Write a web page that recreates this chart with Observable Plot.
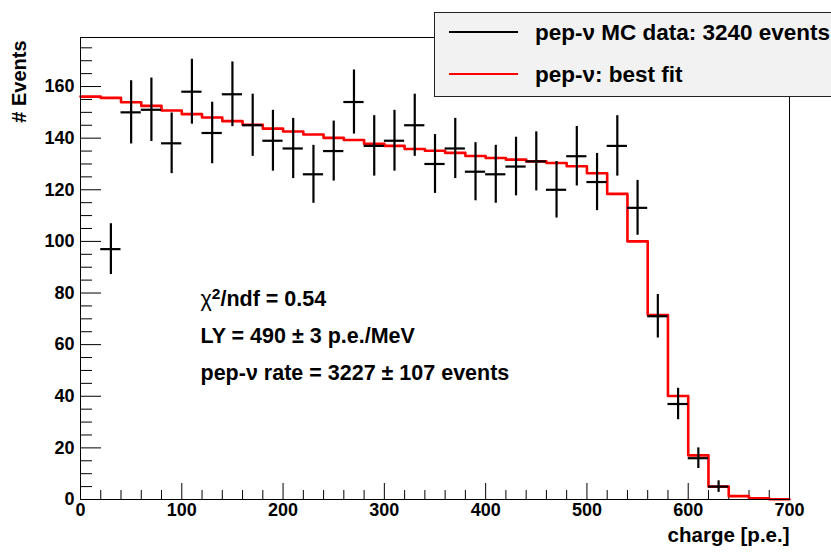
<!DOCTYPE html>
<html><head><meta charset="utf-8">
<script src="https://cdn.jsdelivr.net/npm/d3@7"></script>
<script src="https://cdn.jsdelivr.net/npm/@observablehq/plot@0.6"></script>
<style>
html,body{margin:0;padding:0;background:#fff;overflow:hidden;}
#wrap{position:relative;width:831px;height:553px;overflow:hidden;}
</style></head><body><div id="wrap"></div>
<script>
// MC data: bin centers (p.e.) and counts
const binCenters = [30,50,70,90,110,130,150,170,190,210,230,250,270,290,310,330,350,370,390,410,430,450,470,490,510,530,550,570,590,610,630];
const counts     = [97,150,151,138,158,142,157,145,139,136,126,135,154,137,139,145,130,136,127,126,129,131,120,133,123,137,113,71,37,16,5];
// best fit: value in each 20 p.e. bin, starting at the low edges below
const fitEdges  = [0,20,40,60,80,100,120,140,160,180,200,220,240,260,280,300,320,340,360,380,400,420,440,460,480,500,520,540,560,580,600,620,640,660,680];
const fitValues = [156.1,155.6,153.9,152.5,150.7,149.3,148.0,146.6,145.2,143.7,142.6,141.4,140.1,139.3,137.8,137.0,135.8,135.1,134.3,133.1,132.3,131.7,131.0,130.4,129.1,126.4,118.4,100.0,71.5,40.1,17.1,5.0,1.3,0.5,0.1];
const xEnd = 700;
const xTicks = [0,100,200,300,400,500,600,700];
const xMinorTicks = [20,40,60,80,120,140,160,180,220,240,260,280,320,340,360,380,420,440,460,480,520,540,560,580,620,640,660,680];
const yTicks = [0,20,40,60,80,100,120,140,160];
const yMinorTicks = [5,10,15,25,30,35,45,50,55,65,70,75,85,90,95,105,110,115,125,130,135,145,150,155,165,170,175];
const xLabel = "charge [p.e.]";
const yLabel = "# Events";
const legendLabels = ["pep-ν MC data: 3240 events", "pep-ν: best fit"];
const legendColors = ["#000000", "#ff0000"];
const fitInfo = ["χ2/ndf = 0.54", "LY = 490 ± 3 p.e./MeV", "pep-ν rate = 3227 ± 107 events"];

const W = 831, H = 553, mL = 80, mR = 42, mT = 37, mB = 54;
const pw = W - mL - mR, ph = H - mT - mB;
const FONT = "'Liberation Sans', Arial, Helvetica, sans-serif";

const data = binCenters.map((c, i) => ({x: c, n: counts[i]}));
const fitPts = fitEdges.map((e, i) => ({x: e, y: fitValues[i]}));
fitPts.push({x: xEnd, y: fitValues[fitValues.length - 1]});

const chart = Plot.plot({
  width: W, height: H,
  marginLeft: mL, marginRight: mR, marginTop: mT, marginBottom: mB,
  style: {fontFamily: FONT, fontWeight: "bold", color: "#000", background: "#fff"},
  x: {domain: [0, 700]},
  y: {domain: [0, 179]},
  marks: [
    Plot.axisX({ticks: xTicks, tickSize: 0, tickPadding: 4, fontSize: 18, fontWeight: "bold", label: null}),
    Plot.axisY({ticks: yTicks, tickSize: 0, tickPadding: 6, fontSize: 18, fontWeight: "bold", label: null}),
    Plot.tickX(xMinorTicks, {insetTop: ph - 9, stroke: "#000", strokeWidth: 1}),
    Plot.tickX(xTicks, {insetTop: ph - 16, stroke: "#000", strokeWidth: 1}),
    Plot.tickY(yMinorTicks, {insetRight: pw - 12, stroke: "#000", strokeWidth: 1}),
    Plot.tickY(yTicks, {insetRight: pw - 21, stroke: "#000", strokeWidth: 1}),
    Plot.line(fitPts, {x: "x", y: "y", curve: "step-after", stroke: "#ff0000", strokeWidth: 2.6}),
    Plot.ruleX(data, {x: "x", y1: d => d.n - Math.sqrt(d.n), y2: d => d.n + Math.sqrt(d.n), stroke: "#000", strokeWidth: 2.2}),
    Plot.ruleY(data, {y: "n", x1: d => d.x - 10, x2: d => d.x + 10, stroke: "#000", strokeWidth: 2.2}),
    Plot.frame({stroke: "#000", strokeWidth: 1}),
    Plot.text([fitInfo.join("\n")], {frameAnchor: "left", dx: 120, dy: 63, textAnchor: "start", lineAnchor: "middle", lineHeight: 1.72, fontSize: 21.5, fontWeight: "bold", fill: "#000", className: "fitinfo"}),
    Plot.text([xLabel], {frameAnchor: "bottom-right", dy: 42, textAnchor: "end", fontSize: 20.5, fontWeight: "bold", fill: "#000"}),
    Plot.text([yLabel], {frameAnchor: "top-left", dx: -69, dy: 3, rotate: -90, textAnchor: "end", fontSize: 20, fontWeight: "bold", fill: "#000"})
  ]
});
document.getElementById("wrap").appendChild(chart);

// superscript in chi^2 line
d3.select(chart).selectAll("tspan").each(function() {
  const t = this.textContent;
  if (t.startsWith("χ2")) {
    const s = d3.select(this);
    s.text(null);
    s.append("tspan").attr("font-weight", "normal").text("χ");
    s.append("tspan").attr("font-size", "72%").attr("dy", "-0.45em").text("2");
    s.append("tspan").attr("dy", "0.32em").text(t.slice(2));
  }
});

// legend box (ROOT TLegend), drawn into the same SVG
const svg = d3.select(chart);
const lg = svg.append("g").attr("font-family", FONT).attr("font-weight", "bold").attr("text-anchor", "start");
lg.append("rect").attr("x", 434.5).attr("y", 12.5).attr("width", 420).attr("height", 84)
  .attr("fill", "#f2f2f2").attr("stroke", "#222").attr("stroke-width", 1);
legendLabels.forEach((lab, i) => {
  const cy = 32 + i * 42;
  lg.append("line").attr("x1", 449).attr("x2", 518).attr("y1", cy).attr("y2", cy)
    .attr("stroke", legendColors[i]).attr("stroke-width", 2.2);
  lg.append("text").attr("x", 535).attr("y", cy).attr("dy", "0.35em").attr("text-anchor", "start")
    .attr("font-size", 22.5).attr("fill", "#000").text(lab);
});
</script>
</body></html>
